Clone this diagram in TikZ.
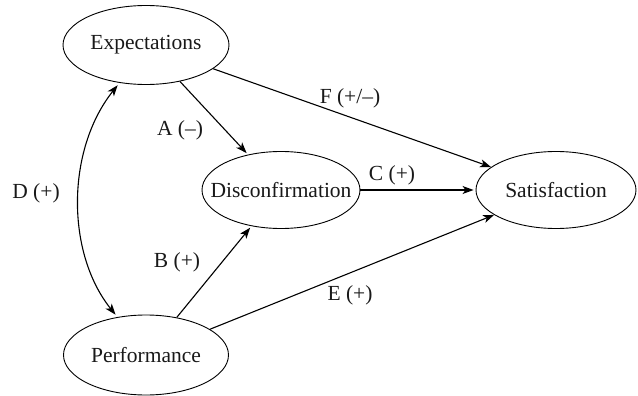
\documentclass[tikz,border=0pt]{standalone}
\usepackage{fontspec}
\setmainfont{Liberation Serif}
\usetikzlibrary{shapes.geometric,arrows.meta}
\begin{document}
\begin{tikzpicture}[x=1pt,y=-1pt,
  every node/.style={font=\fontsize{21.5}{25}\selectfont, text=black!90},
  oval/.style={ellipse, draw, line width=0.9pt, inner sep=0pt},
  conn/.style={line width=1.1pt, -{Stealth[length=11pt,width=8pt,inset=3pt]}},
  lbl/.style={inner sep=0pt}]
\useasboundingbox (0,0) rectangle (638,396);
\node[oval, minimum width=166pt, minimum height=79pt] (E) at (146,45) {\makebox[0pt]{Expectations}};
\node[oval, minimum width=158pt, minimum height=77pt] (D) at (281,190) {\makebox[0pt]{Disconfirmation}};
\node[oval, minimum width=160pt, minimum height=77pt] (S) at (556,190) {\makebox[0pt]{Satisfaction}};
\node[oval, minimum width=165pt, minimum height=80pt] (P) at (146,355) {\makebox[0pt]{Performance}};
\draw[conn, shorten >=2pt] (E) -- (D);
\draw[conn] (E) -- (S);
\draw[conn, shorten >=2pt] (D) -- (S);
\draw[conn, shorten >=2pt] (P) -- (D);
\draw[conn] (P) -- (S);
\draw[conn, {Stealth[length=11pt,width=8pt,inset=3pt]}-{Stealth[length=11pt,width=8pt,inset=3pt]}, shorten <=3pt, shorten >=3pt]
  (E.235) .. controls (66,150) and (66,253) .. (P.127);
\node[lbl] (la) at (180,130) {A (–)};
\node[lbl] (lf) at (350,98) {F (+/–)};
\node[lbl] (lc) at (392,175) {C (+)};
\node[lbl] (lb) at (177,262) {B (+)};
\node[lbl] (le) at (350,295) {E (+)};
\node[lbl] (ld) at (36,193) {D (+)};
\end{tikzpicture}
\end{document}
